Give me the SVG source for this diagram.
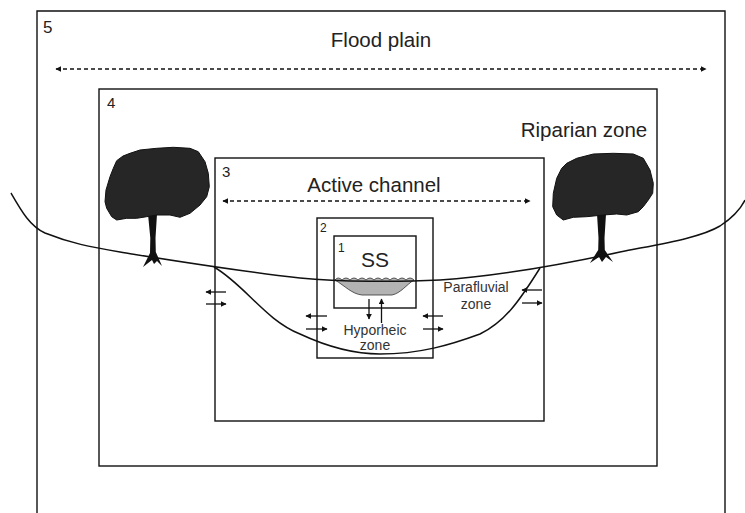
<svg xmlns="http://www.w3.org/2000/svg" width="745" height="513" viewBox="0 0 745 513">
  <style>
    .box { fill: none; stroke: #111; stroke-width: 1.4; }
    .line { fill: none; stroke: #111; stroke-width: 1.5; }
    .dash { fill: none; stroke: #111; stroke-width: 1.3; stroke-dasharray: 4 3; }
    .arr { fill: none; stroke: #111; stroke-width: 1.3; }
    .big { font-family: "Liberation Sans", Arial, sans-serif; font-size: 20.5px; fill: #222; }
    .num { font-family: "Liberation Sans", Arial, sans-serif; fill: #222; }
    .small { font-family: "Liberation Sans", Arial, sans-serif; font-size: 14px; fill: #333; text-anchor: middle; }
    .crown { fill: #262626; stroke: #111; stroke-width: 1; }
    .trunk { fill: #111; }
  </style>
  <defs>
    <marker id="head" viewBox="0 0 10 10" refX="9" refY="5" markerWidth="6" markerHeight="6" markerUnits="userSpaceOnUse" orient="auto-start-reverse">
      <path d="M0,0 L10,5 L0,10 Z" fill="#111"/>
    </marker>
    <marker id="head2" viewBox="0 0 10 10" refX="9" refY="5" markerWidth="6" markerHeight="6" markerUnits="userSpaceOnUse" orient="auto">
      <path d="M0,0 L10,5 L0,10 Z" fill="#111"/>
    </marker>
  </defs>

  <rect width="745" height="513" fill="#fff"/>

  <!-- nested zones -->
  <g id="zone5">
    <path class="box" d="M37,514 L37,11 L725,11 L725,514"/>
    <text class="num" x="43" y="33" font-size="17">5</text>
    <text class="big" x="381" y="47" text-anchor="middle">Flood plain</text>
  </g>
  <g id="zone4">
    <rect class="box" x="99" y="89" width="558" height="377"/>
    <text class="num" x="107" y="108" font-size="15">4</text>
    <text class="big" x="584" y="137" text-anchor="middle">Riparian zone</text>
  </g>
  <g id="zone3">
    <rect class="box" x="215" y="158" width="329" height="263"/>
    <text class="num" x="222" y="177" font-size="15">3</text>
    <text class="big" x="374" y="192" text-anchor="middle">Active channel</text>
  </g>
  <g id="zone2">
    <rect class="box" x="317" y="218" width="116" height="140"/>
    <text class="num" x="320" y="232" font-size="12">2</text>
    <text class="small" x="375" y="335">Hyporheic</text>
    <text class="small" x="375" y="350">zone</text>
  </g>
  <g id="zone1">
    <rect class="box" x="334" y="236" width="82" height="72"/>
    <text class="num" x="338" y="252" font-size="12">1</text>
    <text class="num" x="375" y="267" font-size="21" text-anchor="middle">SS</text>
    <path d="M335,280 C345,286 352,294 362,295 L392,295 C401,293 406,285 414,280 Q410,276 406,280 Q402,276 398,280 Q394,276 390,280 Q386,276 382,280 Q378,276 374,280 Q370,276 366,280 Q362,276 358,280 Q354,276 350,280 Q346,276 342,280 Q338,276 335,280 Z" fill="#b3b3b3" stroke="#333" stroke-width="0.8"/>
  </g>
  <g id="parafluvial">
    <text class="small" x="476" y="292">Parafluvial</text>
    <text class="small" x="476" y="309">zone</text>
  </g>

  <!-- trees -->
  <g id="tree-left">
    <path class="trunk" d="M148,214 L157,214 L155.5,238 L155.8,252 L162,266 L157,261 L154,264 L152,260 L143,267 L150,253 L150.3,238 Z"/>
    <path class="crown" d="M116.7,160.7 L123,156 L130,153.3 L140,150 L156.7,148.3 L173.3,147.3 L190,148.3 L198.3,151.7 L205,161.7 L208.3,173.3 L209.3,186.7 L206.7,196.7 L200,205 L190,213.3 L180,217.3 L170,215 L156.7,215 L146.7,216.7 L136.7,218.3 L126.7,218.3 L116.7,220 L111.7,216.7 L106.7,208.3 L105,201.7 L106,190 L110,176.7 L113.3,168.3 Z" stroke-linejoin="round"/>
  </g>
  <g id="tree-right">
    <path class="trunk" d="M597,214 L606,214 L604.5,238 L604.8,250 L613,262 L606,257 L602,262 L599,257 L590,263 L598.2,250 L598.5,238 Z"/>
    <path class="crown" d="M566.7,163.3 L576.7,158.3 L593.3,154 L613.3,153.3 L633.3,154 L643.3,158.3 L650,170 L653.3,183.3 L652.7,193.3 L648.3,200 L643.3,206.7 L638.3,211.7 L626.7,215 L616.7,214 L603.3,215 L586.7,216.7 L573.3,217.3 L563.3,220 L556.7,215 L552.7,206.7 L553.3,193.3 L556.7,178.3 L561.7,168.3 Z" stroke-linejoin="round"/>
  </g>

  <!-- connectors: ground surface, channel bed, extent and exchange arrows -->
  <g id="connectors">
    <path class="line" d="M11,193 C22,212 30,226 45,233 C70,243 90,247 120,252 C170,260 230,270 300,278 C340,282 400,282 440,280 C500,276 560,265 620,252 C660,244 700,238 720,226 C732,218 740,210 745,200"/>
    <path class="line" d="M214,267 C245,285 265,320 300,334 C330,348 355,354 380,354 C420,354 450,345 480,334 C505,322 520,300 540,268"/>

    <line class="dash" x1="56" y1="69" x2="706" y2="69" marker-start="url(#head)" marker-end="url(#head)"/>
    <line class="dash" x1="223" y1="201" x2="530" y2="201" marker-start="url(#head)" marker-end="url(#head)"/>

    <line class="arr" x1="226" y1="292" x2="206" y2="292" marker-end="url(#head2)"/>
    <line class="arr" x1="206" y1="304" x2="226" y2="304" marker-end="url(#head2)"/>
    <line class="arr" x1="327" y1="316" x2="306" y2="316" marker-end="url(#head2)"/>
    <line class="arr" x1="306" y1="329" x2="327" y2="329" marker-end="url(#head2)"/>
    <line class="arr" x1="443" y1="316" x2="423" y2="316" marker-end="url(#head2)"/>
    <line class="arr" x1="423" y1="329" x2="443" y2="329" marker-end="url(#head2)"/>
    <line class="arr" x1="542" y1="290" x2="522" y2="290" marker-end="url(#head2)"/>
    <line class="arr" x1="522" y1="303" x2="542" y2="303" marker-end="url(#head2)"/>

    <line class="arr" x1="369" y1="299" x2="369" y2="319" marker-end="url(#head2)"/>
    <line class="arr" x1="381.5" y1="323" x2="381.5" y2="299" marker-end="url(#head2)"/>
  </g>
</svg>
